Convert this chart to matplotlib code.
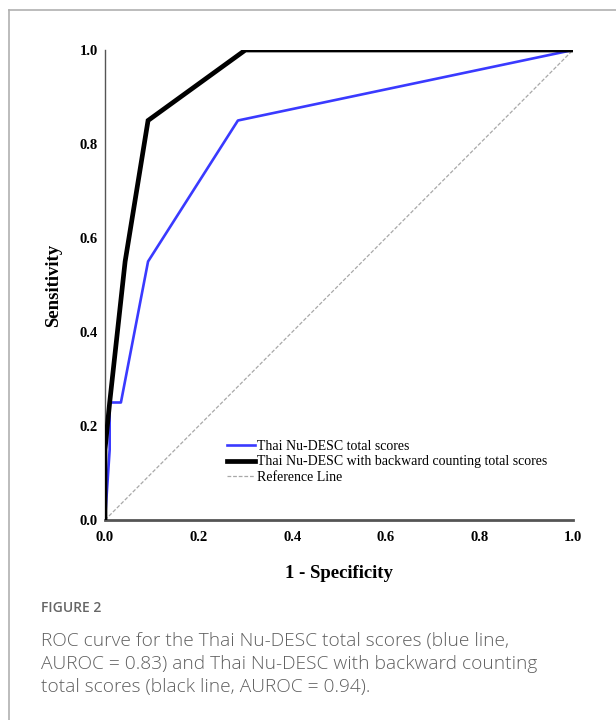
import matplotlib
matplotlib.use("Agg")
import matplotlib.pyplot as plt
from matplotlib.lines import Line2D

# Data
blue_fpr = [0.0, 0.01, 0.01, 0.034, 0.092, 0.284, 1.0]
blue_tpr = [0.0, 0.15, 0.25, 0.25, 0.55, 0.85, 1.0]
black_fpr = [0.0, 0.0, 0.01, 0.043, 0.092, 0.30, 1.0]
black_tpr = [0.0, 0.15, 0.25, 0.55, 0.85, 1.0, 1.0]
ref_x = [0.0, 1.0]
ref_y = [0.0, 1.0]
ticks = [0.0, 0.2, 0.4, 0.6, 0.8, 1.0]
tick_labels = ["0.0", "0.2", "0.4", "0.6", "0.8", "1.0"]
legend_labels = ["Thai Nu-DESC total scores",
                 "Thai Nu-DESC with backward counting total scores",
                 "Reference Line"]

W, H = 616, 720
fig = plt.figure(figsize=(W / 100, H / 100), dpi=100)

# card frame
fig.add_artist(Line2D([9 / W, 9 / W], [0, 1 - 10 / H], color="#b0b0b0", lw=1.2, transform=fig.transFigure))
fig.add_artist(Line2D([9 / W, 1], [1 - 10 / H, 1 - 10 / H], color="#b0b0b0", lw=1.2, transform=fig.transFigure))

ax = fig.add_axes([105 / W, 1 - 520 / H, (573 - 105) / W, (520 - 50) / H])
ax.plot(ref_x, ref_y, color="#a8a8a8", lw=0.9, ls=(0, (3, 1.5)), label=legend_labels[2], zorder=1)
ax.plot(blue_fpr, blue_tpr, color="#3a3aff", lw=1.9, label=legend_labels[0], zorder=2)
ax.plot(black_fpr, black_tpr, color="black", lw=3.4, label=legend_labels[1], zorder=3,
        solid_joinstyle="miter")
ax.set_xlim(0, 1)
ax.set_ylim(0, 1)
for s in ["top", "right"]:
    ax.spines[s].set_visible(False)
ax.spines["left"].set_color("#555555")
ax.spines["left"].set_linewidth(1.0)
ax.spines["bottom"].set_color("#555555")
ax.spines["bottom"].set_linewidth(2.0)

serif = ["Liberation Serif", "DejaVu Serif"]
ax.set_xticks(ticks)
ax.set_xticklabels(tick_labels, fontfamily=serif, fontweight="bold", fontsize=10.5)
ax.set_yticks(ticks)
ax.set_yticklabels(tick_labels, fontfamily=serif, fontweight="bold", fontsize=10.5)
ax.tick_params(axis="x", length=0, pad=8)
ax.tick_params(axis="y", length=0, pad=5)
ax.set_xlabel("1 - Specificity", fontfamily=serif, fontweight="bold", fontsize=13.5, labelpad=15)
ax.set_ylabel("Sensitivity", fontfamily=serif, fontweight="bold", fontsize=13.5, labelpad=13)

handles, labels = ax.get_legend_handles_labels()
order = [1, 2, 0]
leg = ax.legend([handles[i] for i in order], [labels[i] for i in order],
                loc="upper left", bbox_to_anchor=((227 - 105) / 468, (520 - 440) / 470),
                frameon=False, prop={"family": serif, "size": 10},
                handlelength=2.0, handletextpad=0.15, labelspacing=0.17, borderaxespad=0, borderpad=0)

# caption
fig.text(41 / W, 1 - 608 / H, "FIGURE 2", fontfamily="Open Sans", fontsize=10,
         fontweight="semibold", color="#666666", va="center")
cap_lines = ["ROC curve for the Thai Nu-DESC total scores (blue line,",
             "AUROC = 0.83) and Thai Nu-DESC with backward counting",
             "total scores (black line, AUROC = 0.94)."]
for i, line in enumerate(cap_lines):
    fig.text(41 / W, 1 - (641 + 23 * i) / H, line, fontfamily="Open Sans", fontsize=13.8,
             fontweight="light", color="#5f5f5f", va="center")

fig.savefig("out.png", dpi=100)
